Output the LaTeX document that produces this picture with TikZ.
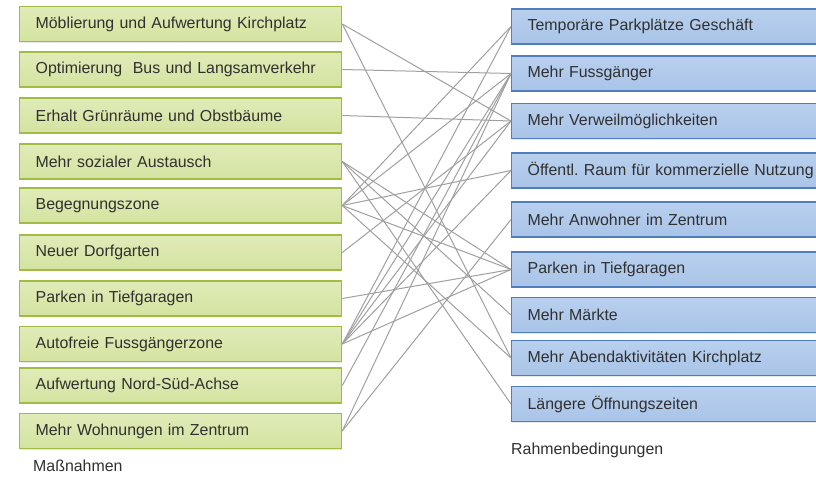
\documentclass[tikz,border=0pt]{standalone}
\usepackage{fontspec}
\setmainfont{Liberation Sans}
\usetikzlibrary{shadows}
\definecolor{lfill}{HTML}{D4E3A0}
\definecolor{lfilltop}{HTML}{E0EBB8}
\definecolor{lborder}{HTML}{A0BC44}
\definecolor{rfill}{HTML}{A9C4E8}
\definecolor{rfilltop}{HTML}{B9D0EE}
\definecolor{rborder}{HTML}{4F7EBD}
\definecolor{txt}{HTML}{303030}
\definecolor{conncol}{HTML}{A0A0A0}
\tikzset{
  basebox/.style={anchor=west, minimum height=35pt, inner xsep=16pt, inner ysep=0pt,
    align=left, text=txt, font=\fontsize{15.9}{18}\selectfont,
    drop shadow={opacity=0.18, shadow xshift=0.8pt, shadow yshift=-1.2pt}},
  lbox/.style={basebox, text width=290pt, draw=lborder, line width=1.3pt,
    top color=lfilltop, bottom color=lfill},
  rbox/.style={basebox, text width=298pt, draw=rborder, line width=1.3pt,
    top color=rfilltop, bottom color=rfill},
  caption/.style={anchor=west, inner sep=0pt, text=txt, font=\fontsize{15.9}{18}\selectfont},
  conn/.style={draw=conncol, line width=1pt}
}
\frenchspacing
\begin{document}
\begin{tikzpicture}[x=1pt,y=-1pt]
\clip (0,0) rectangle (816,477);
\fill[white] (0,0) rectangle (816,477);
% left column
\node[lbox] (L1) at (19,24) {Möblierung und Aufwertung Kirchplatz};
\node[lbox] (L2) at (19,69.5) {Optimierung\ \ Bus und Langsamverkehr};
\node[lbox] (L3) at (19,115.5) {Erhalt Grünräume und Obstbäume};
\node[lbox] (L4) at (19,161.5) {Mehr sozialer Austausch};
\node[lbox] (L5) at (19,205.5) {Begegnungszone};
\node[lbox] (L6) at (19,252.5) {Neuer Dorfgarten};
\node[lbox] (L7) at (19,298.5) {Parken in Tiefgaragen};
\node[lbox] (L8) at (19,344) {Autofreie Fussgängerzone};
\node[lbox] (L9) at (19,385.5) {Aufwertung Nord-Süd-Achse};
\node[lbox] (L10) at (19,431) {Mehr Wohnungen im Zentrum};
\node[caption] (capL) at (33,466) {Maßnahmen};
% right column
\node[rbox] (R1) at (511,26.5) {Temporäre Parkplätze Geschäft};
\node[rbox] (R2) at (511,73.5) {Mehr Fussgänger};
\node[rbox] (R3) at (511,121) {Mehr Verweilmöglichkeiten};
\node[rbox] (R4) at (511,170.5) {Öffentl. Raum für kommerzielle Nutzung};
\node[rbox] (R5) at (511,219.5) {Mehr Anwohner im Zentrum};
\node[rbox] (R6) at (511,269.5) {Parken in Tiefgaragen};
\node[rbox] (R7) at (511,315) {Mehr Märkte};
\node[rbox] (R8) at (511,358) {Mehr Abendaktivitäten Kirchplatz};
\node[rbox] (R9) at (511,404) {Längere Öffnungszeiten};
\node[caption] (capR) at (511,450) {Rahmenbedingungen};
% connectors
\draw[conn] (L1.east) -- (R3.west);
\draw[conn] (L1.east) -- (R8.west);
\draw[conn] (L2.east) -- (R2.west);
\draw[conn] (L3.east) -- (R3.west);
\draw[conn] (L4.east) -- (R6.west);
\draw[conn] (L4.east) -- (R7.west);
\draw[conn] (L4.east) -- (R9.west);
\draw[conn] (L5.east) -- (R1.west);
\draw[conn] (L5.east) -- (R2.west);
\draw[conn] (L5.east) -- (R4.west);
\draw[conn] (L5.east) -- (R6.west);
\draw[conn] (L5.east) -- (R8.west);
\draw[conn] (L6.east) -- (R3.west);
\draw[conn] (L7.east) -- (R6.west);
\draw[conn] (L8.east) -- (R1.west);
\draw[conn] (L8.east) -- (R2.west);
\draw[conn] (L8.east) -- (R3.west);
\draw[conn] (L8.east) -- (R4.west);
\draw[conn] (L8.east) -- (R6.west);
\draw[conn] (L9.east) -- (R2.west);
\draw[conn] (L10.east) -- (R2.west);
\draw[conn] (L10.east) -- (R5.west);
\end{tikzpicture}
\end{document}
